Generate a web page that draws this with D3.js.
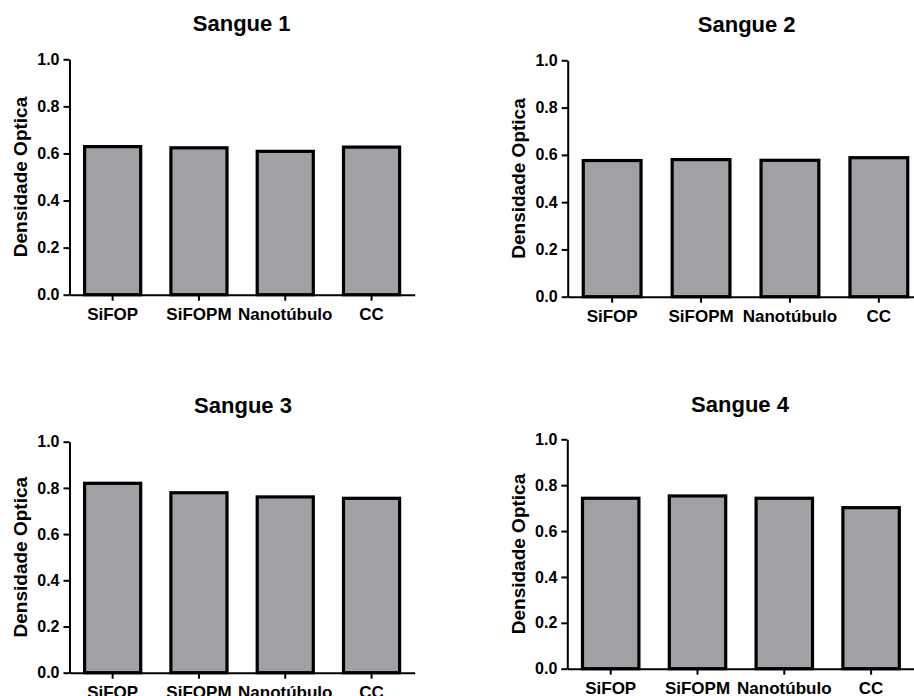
<!DOCTYPE html>
<html>
<head>
<meta charset="utf-8">
<script src="https://cdn.jsdelivr.net/npm/d3@7"></script>
<style>
    body { margin: 0; background: #fff; }
    svg { display: block; }
    text { font-family: "Liberation Sans", Arial, sans-serif; font-weight: bold; fill: #000; }
</style>
</head>
<body>
<div id="chart"></div>
<script>
// categories and values
const categories = ["SiFOP", "SiFOPM", "Nanotúbulo", "CC"];
const titles = ["Sangue 1", "Sangue 2", "Sangue 3", "Sangue 4"];
const sangue1 = [0.629, 0.624, 0.609, 0.627];
const sangue2 = [0.576, 0.580, 0.577, 0.588];
const sangue3 = [0.820, 0.779, 0.761, 0.755];
const sangue4 = [0.743, 0.753, 0.743, 0.702];
const yTicks = [0, 0.2, 0.4, 0.6, 0.8, 1.0];
const yLabel = "Densidade Optica";

const width = 914, height = 696;

// where each panel sits on the page
const panels = [
    { title: titles[0], values: sangue1, x0: 69.5, top: 59.3, bottom: 294.7, step: 86.3, tx: 241.7, ty: 31, lx: 26.5 },
    { title: titles[1], values: sangue2, x0: 567.7, top: 60.3, bottom: 296.7, step: 88.9, tx: 746.7, ty: 31.7, lx: 525 },
    { title: titles[2], values: sangue3, x0: 69.5, top: 441.7, bottom: 672.7, step: 86.3, tx: 243, ty: 413, lx: 26.5 },
    { title: titles[3], values: sangue4, x0: 567.3, top: 439.3, bottom: 668.7, step: 86.8, tx: 740, ty: 411.7, lx: 525 }
];

const svg = d3.select("#chart").append("svg")
    .attr("width", width)
    .attr("height", height)
    .attr("viewBox", [0, 0, width, height]);

panels.forEach(p => {
    const g = svg.append("g");

    const x = d3.scaleBand()
        .domain(categories)
        .range([p.x0, p.x0 + 4 * p.step])
        .paddingInner(0.35)
        .paddingOuter(0.175);

    const y = d3.scaleLinear()
        .domain([0, 1])
        .range([p.bottom, p.top]);

    // bars
    g.append("g")
        .selectAll("rect")
        .data(p.values)
        .join("rect")
        .attr("x", (d, i) => x(categories[i]))
        .attr("y", d => y(d))
        .attr("width", x.bandwidth())
        .attr("height", d => y(0) - y(d))
        .attr("fill", "#a1a1a5")
        .attr("stroke", "#000")
        .attr("stroke-width", 3.2);

    // y axis
    g.append("g")
        .attr("transform", `translate(${p.x0},0)`)
        .call(d3.axisLeft(y).tickValues(yTicks).tickFormat(d3.format(".1f")).tickSize(6).tickSizeOuter(0).tickPadding(4))
        .call(a => a.selectAll("path, line").attr("stroke", "#000").attr("stroke-width", 2))
        .call(a => a.selectAll("text").attr("font-size", 16).style("font-family", "Liberation Sans, Arial, sans-serif").style("font-weight", "bold"));

    // x axis
    g.append("g")
        .attr("transform", `translate(0,${p.bottom})`)
        .call(d3.axisBottom(x).tickSize(6).tickSizeOuter(0).tickPadding(7))
        .call(a => a.selectAll("path, line").attr("stroke", "#000").attr("stroke-width", 2))
        .call(a => a.selectAll("text").attr("font-size", 17).style("font-family", "Liberation Sans, Arial, sans-serif").style("font-weight", "bold"));

    // title
    g.append("text")
        .attr("x", p.tx)
        .attr("y", p.ty)
        .attr("text-anchor", "middle")
        .attr("font-size", 22)
        .text(p.title);

    // y label
    g.append("text")
        .attr("transform", `translate(${p.lx},${(p.top + p.bottom) / 2}) rotate(-90)`)
        .attr("text-anchor", "middle")
        .attr("font-size", 19)
        .text(yLabel);
});
</script>
</body>
</html>
